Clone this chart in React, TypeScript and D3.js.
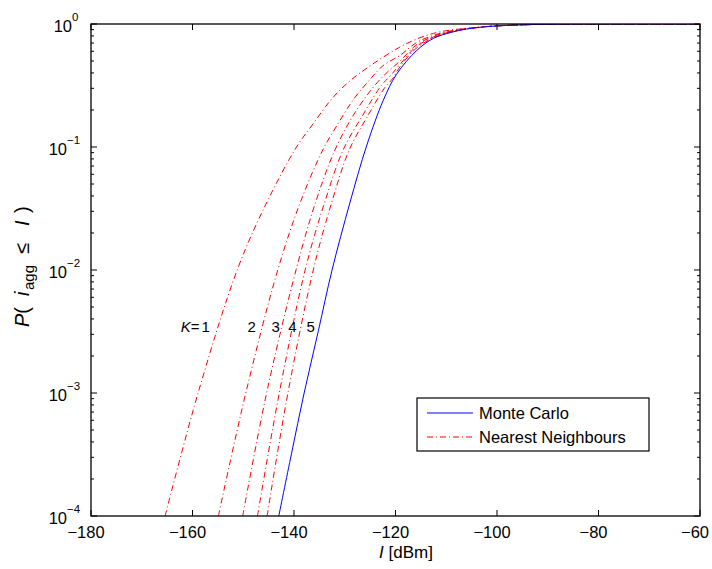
import React from 'react';
import * as d3 from 'd3';

// I [dBm] sample points and CDF values
const mcI = [-143, -140.5, -138, -135.2, -132.5, -129, -125.7, -122.4, -119.8, -115.8, -112.5, -109, -106, -102, -98, -94, -90, -85, -80, -60];
const mcP = [1e-4, 3.2e-4, 1e-3, 3.2e-3, 1e-2, 3.5e-2, 0.102, 0.24, 0.39, 0.61, 0.765, 0.855, 0.91, 0.952, 0.975, 0.988, 0.995, 0.999, 1, 1];

const nnI = [
  [-165.4, -158.9, -151.0, -145.0, -139.5, -136.2, -132.6, -129.3, -125.0, -119.4, -116, -112.5, -109, -106, -102, -98, -94, -90, -85, -80, -60],
  [-154.9, -149.5, -143.2, -138.7, -134.2, -131.6, -128.4, -125.0, -122.5, -119, -116, -112.5, -109, -106, -102, -98, -94, -90, -85, -80, -60],
  [-150.1, -145.4, -139.6, -135.8, -131.9, -128, -124, -121.5, -119.1, -116, -112.5, -109, -106, -102, -98, -94, -90, -85, -80, -60],
  [-147.2, -142.9, -137.8, -134.1, -130.3, -126.5, -122.8, -121, -119.1, -116, -112.5, -109, -106, -102, -98, -94, -90, -85, -80, -60],
  [-145.3, -141.2, -136.2, -132.7, -129.1, -125.5, -122.2, -120.5, -119.1, -116, -112.5, -109, -106, -102, -98, -94, -90, -85, -80, -60],
];
const nnP = [
  [1e-4, 1e-3, 1.05e-2, 0.038, 0.1, 0.155, 0.245, 0.336, 0.457, 0.64, 0.75, 0.84, 0.895, 0.922, 0.955, 0.976, 0.988, 0.995, 0.999, 1, 1],
  [1e-4, 1e-3, 1e-2, 0.036, 0.097, 0.148, 0.24, 0.355, 0.457, 0.56, 0.7, 0.81, 0.88, 0.917, 0.953, 0.975, 0.988, 0.995, 0.999, 1, 1],
  [1e-4, 1e-3, 1e-2, 0.035, 0.095, 0.19, 0.32, 0.41, 0.5, 0.67, 0.795, 0.872, 0.915, 0.953, 0.975, 0.988, 0.995, 0.999, 1, 1],
  [1e-4, 1e-3, 1e-2, 0.034, 0.095, 0.18, 0.316, 0.38, 0.47, 0.65, 0.785, 0.867, 0.913, 0.953, 0.975, 0.988, 0.995, 0.999, 1, 1],
  [1e-4, 1e-3, 1e-2, 0.034, 0.095, 0.178, 0.3, 0.363, 0.45, 0.63, 0.775, 0.862, 0.912, 0.952, 0.975, 0.988, 0.995, 0.999, 1, 1],
];

const kLabels = ['1', '2', '3', '4', '5'];
const kLabelI = [-156.6, -147.5, -142.8, -139.5, -135.9];
const kLabelP = 3.5e-3;

const xTicks = [-180, -160, -140, -120, -100, -80, -60];
const yExps = [0, -1, -2, -3, -4];

const W = 712;
const H = 569;
const m = { left: 91, right: 700, top: 24, bottom: 516 };
const font = "'Liberation Sans', Arial, sans-serif";

export default function App() {
  const x = d3.scaleLinear().domain([-180, -60]).range([m.left, m.right]);
  const y = d3.scaleLog().domain([1e-4, 1]).range([m.bottom, m.top]);

  const line = d3
    .line<[number, number]>()
    .x(d => x(d[0]))
    .y(d => y(d[1]))
    .curve(d3.curveCatmullRom.alpha(0.5));

  const minor: number[] = [];
  for (let e = -4; e < 0; e++) {
    for (let k = 2; k <= 9; k++) minor.push(k * Math.pow(10, e));
  }

  const mcPts = mcI.map((v, i) => [v, mcP[i]] as [number, number]);

  return (
    <div style={{ position: 'absolute', left: 0, top: 0 }}>
      <svg width={W} height={H} style={{ display: 'block', background: '#fff' }}>
        <defs>
          <clipPath id="plot">
            <rect x={m.left} y={m.top} width={m.right - m.left} height={m.bottom - m.top} />
          </clipPath>
        </defs>

        <g clipPath="url(#plot)" fill="none">
          {nnI.map((xs, k) => (
            <path
              key={k}
              d={line(xs.map((v, i) => [v, nnP[k][i]] as [number, number])) || ''}
              stroke="#ff0000"
              strokeWidth={1}
              strokeDasharray="6,3,1,3"
            />
          ))}
          <path d={line(mcPts) || ''} stroke="#0000ff" strokeWidth={1} />
        </g>

        {/* frame */}
        <rect
          x={m.left}
          y={m.top}
          width={m.right - m.left}
          height={m.bottom - m.top}
          fill="none"
          stroke="#000"
          strokeWidth={1.3}
        />

        {/* x ticks */}
        {xTicks.map(t => (
          <g key={t}>
            <line x1={x(t)} x2={x(t)} y1={m.bottom} y2={m.bottom - 6} stroke="#000" />
            <line x1={x(t)} x2={x(t)} y1={m.top} y2={m.top + 6} stroke="#000" />
            <text x={x(t) - 5} y={538} textAnchor="middle" fontFamily={font} fontSize={16.5}>
              {t < 0 ? '\u2212' + Math.abs(t) : t}
            </text>
          </g>
        ))}

        {/* y ticks */}
        {yExps.map(e => (
          <g key={e}>
            <line x1={m.left} x2={m.left + 6} y1={y(Math.pow(10, e))} y2={y(Math.pow(10, e))} stroke="#000" />
            <line x1={m.right} x2={m.right - 6} y1={y(Math.pow(10, e))} y2={y(Math.pow(10, e))} stroke="#000" />
            <text x={e === 0 ? 72 : 67} y={y(Math.pow(10, e)) + 7.5} textAnchor="end" fontFamily={font} fontSize={16.5}>
              10
            </text>
            <text x={e === 0 ? 72 : 67} y={y(Math.pow(10, e)) - 3} fontFamily={font} fontSize={11.5}>
              {e === 0 ? '0' : '\u2212' + Math.abs(e)}
            </text>
          </g>
        ))}
        {minor.map(v => (
          <g key={v}>
            <line x1={m.left} x2={m.left + 3} y1={y(v)} y2={y(v)} stroke="#000" />
            <line x1={m.right} x2={m.right - 3} y1={y(v)} y2={y(v)} stroke="#000" />
          </g>
        ))}

        {/* K labels */}
        {kLabels.map((l, i) => (
          <text
            key={l}
            x={x(kLabelI[i])}
            y={y(kLabelP) + 6}
            textAnchor="end"
            fontFamily={font}
            fontSize={15}
          >
            {i === 0 ? (
              <>
                <tspan fontStyle="italic">K</tspan>
                <tspan>=</tspan>
                <tspan dx={2}>1</tspan>
              </>
            ) : (
              l
            )}
          </text>
        ))}

        {/* axis labels */}
        <text x={406} y={558} textAnchor="middle" fontFamily={font} fontSize={17}>
          <tspan fontStyle="italic">I</tspan> [dBm]
        </text>
        <text transform="translate(29,327) rotate(-90)" fontFamily={font} fontSize={20}>
          <tspan x={0} fontStyle="italic">P</tspan>
          <tspan>(</tspan>
          <tspan x={31} fontStyle="italic">i</tspan>
          <tspan x={37} dy={5} fontSize={15}>agg</tspan>
          <tspan x={73} dy={-5}>≤</tspan>
          <tspan x={101} fontStyle="italic">I</tspan>
          <tspan x={114}>)</tspan>
        </text>

        {/* legend */}
        <g>
          <rect x={417} y={398} width={232} height={53} fill="#fff" stroke="#000" strokeWidth={1.2} />
          <line x1={427} x2={473} y1={413} y2={413} stroke="#0000ff" strokeWidth={1} />
          <text x={479} y={419} fontFamily={font} fontSize={16.5}>
            Monte Carlo
          </text>
          <line x1={427} x2={473} y1={437} y2={437} stroke="#ff0000" strokeWidth={1} strokeDasharray="6,3,1,3" />
          <text x={479} y={443} fontFamily={font} fontSize={16.5}>
            Nearest Neighbours
          </text>
        </g>
      </svg>
    </div>
  );
}
